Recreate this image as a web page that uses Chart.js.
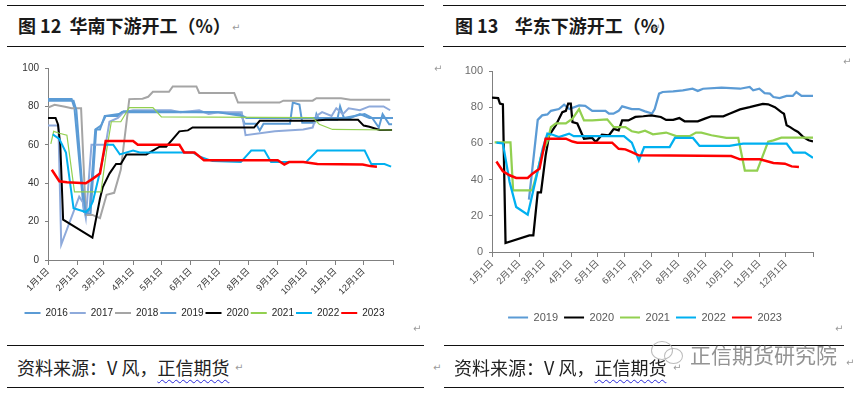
<!DOCTYPE html>
<html lang="zh">
<head>
<meta charset="utf-8">
<title>华南 / 华东下游开工</title>
<script src="https://cdn.jsdelivr.net/npm/chart.js@4.4.0/dist/chart.umd.min.js"></script>
<style>
html, body { margin: 0; padding: 0; background: #fff; }
body { width: 864px; height: 393px; position: relative; overflow: hidden;
       font-family: "Noto Sans CJK SC", sans-serif; color: #1a1a1a; }
.rule { position: absolute; height: 0; border-top: 1.5px solid #111; }
.title { position: absolute; top: 13px; font-size: 18px; font-weight: bold; line-height: 24px; white-space: pre; }
.src { position: absolute; top: 355px; font-size: 18px; line-height: 24px; white-space: pre; color: #222; }
.src u { text-decoration: underline wavy #2a2ad8 1px; text-underline-offset: 4px; }
.mark { position: absolute; font-family: "DejaVu Sans", sans-serif; font-size: 10px; color: #9a9a9a; line-height: 12px; }
.box { position: absolute; top: 50px; width: 432px; height: 285px; }
.wm { position: absolute; left: 690px; top: 340px; font-size: 21px; line-height: 28px; color: rgba(120,120,120,0.8); }
.bubble { position: absolute; border: 1.5px solid rgba(170,170,170,0.8); border-radius: 50%; }
</style>
</head>
<body>

<div class="rule" style="left:7px; width:417px; top:5px;"></div>
<div class="rule" style="left:7px; width:417px; top:46px;"></div>
<div class="title" style="left:18px;">图 12  华南下游开工（%）</div>
<div class="mark" style="left:232px; top:22px;">↵</div>

<div class="rule" style="left:443px; width:403px; top:5px;"></div>
<div class="rule" style="left:443px; width:403px; top:46px;"></div>
<div class="title" style="left:455px;">图 13    华东下游开工（%）</div>
<div class="mark" style="left:652px; top:22px;">↵</div>

<div class="box" style="left:0;"><canvas id="south" width="432" height="285"></canvas></div>
<div class="box" style="left:432px;"><canvas id="east" width="432" height="285"></canvas></div>

<div class="mark" style="left:434px; top:63px;">↵</div>
<div class="mark" style="left:843px; top:56px;">↵</div>
<div class="mark" style="left:413px; top:323px;">↵</div>
<div class="mark" style="left:835px; top:323px;">↵</div>

<div class="rule" style="left:7px; width:417px; top:345px;"></div>
<div class="rule" style="left:7px; width:417px; top:387px;"></div>
<div class="src" style="left:17px;">资料来源：V 风，<u>正信期货</u></div>
<div class="mark" style="left:235px; top:362px;">↵</div>

<div class="rule" style="left:444px; width:400px; top:345px;"></div>
<div class="rule" style="left:444px; width:400px; top:387px;"></div>
<div class="mark" style="left:433px; top:362px;">↵</div>
<div class="src" style="left:454px;">资料来源：V 风，<u>正信期货</u></div>
<div class="mark" style="left:673px; top:362px;">↵</div>
<div class="mark" style="left:846px; top:357px;">↵</div>
<div class="bubble" style="left:651px; top:341px; width:20px; height:17px;"></div>
<div class="bubble" style="left:664px; top:348px; width:17px; height:14px;"></div>
<div class="wm">正信期货研究院</div>

<script>
// 月份刻度（一年中的第几天）
const monthStarts = [0, 31, 59, 90, 120, 151, 181, 212, 243, 273, 304, 334, 365];
const monthLabels = ['1月1日', '2月1日', '3月1日', '4月1日', '5月1日', '6月1日',
    '7月1日', '8月1日', '9月1日', '10月1日', '11月1日', '12月1日', ''];

// 华南下游开工，每点为 [第几天, 开工率]
const south2016 = [[0,83.8],[25,83.8],[28,79],[38,25],[45,24],[51,68],[55,68],[60,75],[74,75],[78,77],[180,77],[204,76],[208,71],[220,71],[224,67.5],[228,71],[256,71],[259,82],[266,81],[269,71.5],[282,71.5],[284,76],[287,73],[306,73],[309,80],[313,74],[335,76],[343,74],[350,69],[354,76],[361,70.7],[364,70.7]];
const south2017 = [[0,70],[11,70],[14,8],[33,33],[37,30],[40,22],[46,60],[61,60],[65,72],[74,74],[80,77],[90,78],[130,78],[140,77],[160,78],[170,76],[180,77],[205,77],[209,65],[240,67],[270,68],[280,69],[284,75],[290,77],[300,75],[305,79],[312,76],[318,79],[330,78],[340,80],[355,80],[362,78]];
const south2018 = [[0,79.4],[7,80.8],[18,79.8],[25,79],[35,79],[40,23.5],[47,23.5],[55,21.8],[62,34],[70,35],[77,47],[86,83.8],[100,84],[106,85],[111,87.6],[128,87.6],[132,90.4],[157,90.4],[160,87],[197,87],[201,82],[245,82],[249,83],[280,83],[284,84.3],[310,84.3],[320,83.5],[362,83.5]];
const south2019 = [[0,83],[27,83],[30,78],[36,40],[40,24],[44,26],[50,68],[56,70],[61,75],[75,76],[80,77.5],[180,77],[206,75],[210,74],[320,74],[330,76],[340,74],[365,74]];
const south2020 = [[0,74],[8,74],[10.5,70.7],[13,60],[16,21],[47,11.7],[55,32],[58,38],[65,45],[72,50],[77,50],[83,55],[104,55],[111,57],[118,59],[125,59],[132,63],[139,67],[148,67.5],[153,69],[218,69],[224,72.5],[280,72.5],[294,73],[328,73],[334,70],[340,69.4],[351,67.7],[364,67.7]];
const south2021 = [[3,60.5],[6,67],[12,66],[20,65],[28,35.5],[56,35.5],[62,57],[67,72],[77,72],[86,79.4],[111,79.4],[120,74.5],[280,74.2],[287,70.7],[301,68],[364,67.7]];
const south2022 = [[5,65.4],[12,63],[19,56],[27,27],[40,25],[44,27],[47.5,30.5],[55,46],[61,60],[69,60],[76,55],[90,57],[97,56],[153,56],[160,54],[174,51.5],[204,51],[215,57],[229,57],[236,51],[273,51],[285,57],[335,57],[342,50],[356,50],[363,48.6]];
const south2023 = [[4,47],[12,41],[20,40.5],[40,40],[47.5,42.4],[55,45],[61,62],[90,62],[95,60],[139,60],[144,56],[155,56],[165,52],[243,52],[250,49.7],[255,51],[270,51],[285,50],[333,49.7],[341,48.9],[348,48.6]];
const southYears = ['2016', '2017', '2018', '2019', '2020', '2021', '2022', '2023'];

// 华东下游开工
const east2019 = [[42,29],[52,73],[57,75.5],[63,76],[67,78],[76,79],[82,81.4],[88,79],[99,81],[106,80.7],[114,78],[129,78],[133,76.4],[138,76.4],[144,78],[148,80.5],[159,79],[167,79],[174,77.7],[182,76.5],[185,79],[190,87.5],[194,88.4],[206,88.8],[217,89.3],[228,90.2],[234,89],[240,90.2],[261,90.8],[282,90.2],[293,91.2],[297,89.3],[304,90.2],[310,87.8],[316,87.5],[320,85.6],[327,85],[335,86.2],[342,86.2],[346,88.4],[352,86.2],[365,86.2]];
const east2020 = [[0,85.3],[7,85],[9,82],[12.4,81.6],[15.4,5],[42.5,9.2],[47,9.2],[52,33],[55.7,33],[61,53.4],[65,64.5],[72.6,70],[80,77.3],[84,78],[86.6,82],[89.6,82],[91.5,71.8],[97,71],[104.6,62.6],[114,63],[118,60.8],[125,64.8],[133,64.5],[138.5,68],[144,67.2],[148,72.7],[155,72.7],[163,74.6],[172,75],[181,75.5],[192,74.6],[198,73],[206,73],[213,74],[219,72.2],[234,72.2],[242,73.7],[249.5,75],[263,75],[270,76.4],[282,78.8],[293,80],[301,81],[308,81.8],[314,81.6],[321.7,80],[329,77.3],[332,76.4],[335,70],[339,69],[344.5,67.2],[348,66.3],[354,63.5],[360,61.7],[365,61.1]];
const east2021 = [[3,60.5],[21,60.5],[24,34],[45.5,34],[52,45],[57,55],[63,61],[67,69],[72.6,71],[84,71],[91.5,73.7],[99,79],[104.6,72.7],[114,72.7],[131,73.3],[138.5,69],[151.7,69],[159,66.7],[166.7,66],[174,67],[183,65],[198,66],[209.5,64],[224.7,64],[232,66],[238,66],[249.5,64.5],[266.5,63],[280,63],[287.5,45],[301.5,45],[314,61],[320,61.7],[329,63.2],[365,63.2]];
const east2022 = [[5,60.4],[12.4,60],[20,38.7],[27.5,24.9],[40.6,20.6],[50,40.5],[57.6,57],[63,65.4],[69,64.8],[76,63.5],[87.7,65.4],[93,64],[150,64],[159,60.4],[167,50.6],[173,58],[202,58],[208,63],[228.5,63],[236,58.6],[270,58.6],[285.5,59.9],[335,59.9],[342.6,54.9],[356,54.9],[365,52]];
const east2023 = [[5,50],[12.4,44.6],[20,42.4],[27.5,40.9],[40.6,40.9],[46,43.3],[54,46],[61,62.6],[84,62.6],[91.5,61],[97,60.4],[136.6,60.4],[144,57],[151.7,56.7],[159,55.2],[166.7,53.4],[272,53],[282,51.2],[304.6,51.2],[320,49.2],[333,48.8],[340.7,47.3],[349,47]];
const eastYears = ['2019', '2020', '2021', '2022', '2023'];

// 线条样式
const southStyles = [
    { color: '#5B9BD5', width: 2 },
    { color: '#8EAADB', width: 2 },
    { color: '#A5A5A5', width: 2 },
    { color: '#5B9BD5', width: 2 },
    { color: '#000000', width: 2 },
    { color: '#92D050', width: 1.2 },
    { color: '#00B0F0', width: 2 },
    { color: '#FF0000', width: 2.5 }
];
const eastStyles = [
    { color: '#5B9BD5', width: 2.25 },
    { color: '#000000', width: 2.25 },
    { color: '#92D050', width: 2.25 },
    { color: '#00B0F0', width: 2.25 },
    { color: '#FF0000', width: 2.5 }
];

const FONT = '"Liberation Sans", "Noto Sans CJK SC", sans-serif';

// 图例整体左右平移（y 轴标签会被裁剪在轴框内，所以不能靠 padding 挪图例）
const legendShift = {
    id: 'legendShift',
    afterLayout(chart, args, opts) {
        if (chart.legend && opts.dx) {
            chart.legend.left += opts.dx;
            chart.legend.right += opts.dx;
        }
    }
};

function toPoints(arr) {
    return arr.map(p => ({ x: p[0], y: p[1] }));
}

function makeChart(canvasId, years, series, styles, look) {
    const n = years.length;
    const datasets = years.map((label, i) => ({
        label: label,
        data: toPoints(series[i]),
        borderColor: styles[i].color,
        backgroundColor: styles[i].color,
        borderWidth: styles[i].width,
        pointRadius: 0,
        tension: 0,
        fill: false,
        order: n - 1 - i   // 后面的年份画在上层
    }));

    return new Chart(document.getElementById(canvasId), {
        type: 'line',
        data: { datasets: datasets },
        plugins: [legendShift],
        options: {
            responsive: false,
            animation: false,
            layout: { padding: look.padding },
            plugins: {
                tooltip: { enabled: false },
                legendShift: { dx: look.legendDx },
                legend: {
                    position: 'bottom',
                    labels: {
                        boxWidth: look.legendBox,
                        boxHeight: 2,
                        padding: look.legendPad,
                        color: look.legendColor,
                        font: { family: FONT, size: look.legendFont },
                        sort: (a, b) => a.datasetIndex - b.datasetIndex,
                        generateLabels: (chart) =>
                            Chart.defaults.plugins.legend.labels.generateLabels(chart)
                                .map(item => Object.assign(item, { lineWidth: 0 }))
                    }
                }
            },
            scales: {
                x: {
                    type: 'linear',
                    min: 0,
                    max: 365,
                    afterBuildTicks: (scale) => {
                        scale.ticks = monthStarts.map(v => ({ value: v }));
                    },
                    afterFit: (scale) => { scale.height = look.xHeight; },
                    ticks: {
                        autoSkip: false,
                        minRotation: 45,
                        maxRotation: 45,
                        padding: 1,
                        color: look.xColor,
                        font: { family: FONT, size: look.xFont },
                        callback: (value, index) => monthLabels[index]
                    },
                    grid: { drawOnChartArea: false, drawTicks: true, tickLength: 5, color: '#808080' },
                    border: { color: '#808080', width: 1 }
                },
                y: {
                    min: 0,
                    max: 100,
                    afterFit: (scale) => { scale.width = look.yWidth; },
                    ticks: {
                        stepSize: 20,
                        padding: 6,
                        color: look.yColor,
                        font: { family: FONT, size: look.yFont }
                    },
                    grid: { drawOnChartArea: false, drawTicks: true, tickLength: 3, color: '#808080' },
                    border: { color: '#808080', width: 1 }
                }
            }
        }
    });
}

makeChart('south', southYears,
    [south2016, south2017, south2018, south2019, south2020, south2021, south2022, south2023],
    southStyles,
    {
        padding: { left: 16, right: 39, top: 18, bottom: 7 },
        yWidth: 32, xHeight: 46, legendDx: 0,
        xFont: 9, yFont: 10, legendFont: 10,
        legendBox: 16, legendPad: 2,
        xColor: '#333333', yColor: '#333333', legendColor: '#262626'
    });

makeChart('east', eastYears,
    [east2019, east2020, east2021, east2022, east2023],
    eastStyles,
    {
        padding: { left: 25, right: 51, top: 21, bottom: 2 },
        yWidth: 35, xHeight: 54, legendDx: 10,
        xFont: 9.5, yFont: 11, legendFont: 11,
        legendBox: 20, legendPad: 6,
        xColor: '#595959', yColor: '#6b6b6b', legendColor: '#595959'
    });
</script>
</body>
</html>
